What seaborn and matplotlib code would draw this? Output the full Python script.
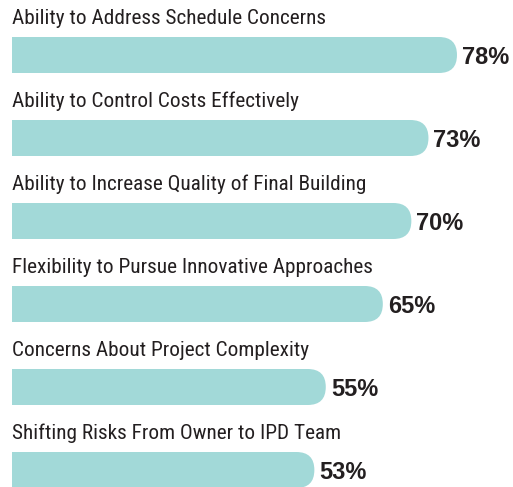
import matplotlib
matplotlib.use("Agg")
import matplotlib.pyplot as plt
import seaborn as sns
import pandas as pd
from matplotlib.patches import FancyBboxPatch, Rectangle

# Datos del gráfico
factors = [
    "Ability to Address Schedule Concerns",
    "Ability to Control Costs Effectively",
    "Ability to Increase Quality of Final Building",
    "Flexibility to Pursue Innovative Approaches",
    "Concerns About Project Complexity",
    "Shifting Risks From Owner to IPD Team",
]
percentages = [78, 73, 70, 65, 55, 53]

bar_color = "#a2d9d8"
text_color = "#231f20"

df = pd.DataFrame({"factor": factors, "pct": percentages})

W, H = 513, 487
fig = plt.figure(figsize=(W / 100, H / 100), dpi=100)
ax = fig.add_axes([12 / W, 0, 501 / W, 1])

px_per_unit = 5.705
spacing = 83.0
first_center = 55.0
bar_h = 36 / spacing

sns.barplot(data=df, x="pct", y="factor", orient="h", color=bar_color,
            width=bar_h, saturation=1, ax=ax)

ax.set_xlim(0, 501 / px_per_unit)
ax.set_ylim((H - first_center) / spacing, -first_center / spacing)
ax.axis("off")

# Redondear el extremo derecho de las barras
r_px = 18
for p in list(ax.patches):
    x, y, w, h = p.get_x(), p.get_y(), p.get_width(), p.get_height()
    p.set_visible(False)
    rx = r_px / px_per_unit
    aspect = (1 / spacing) / (1 / px_per_unit)
    ax.add_patch(FancyBboxPatch((x, y), w, h,
                                boxstyle=f"round,pad=0,rounding_size={rx}",
                                mutation_aspect=aspect,
                                facecolor=bar_color, edgecolor="none"))
    ax.add_patch(Rectangle((x, y), w / 2, h, facecolor=bar_color, edgecolor="none"))

label_font = ["Roboto Condensed", "Liberation Sans Narrow", "DejaVu Sans"]
for i, (name, val) in enumerate(zip(factors, percentages)):
    ax.text(0, i - 0.5 * bar_h - 9 / spacing, name, ha="left", va="bottom",
            fontsize=15.3, color=text_color, family=label_font)
    ax.text(val + 5 / px_per_unit, i + 2 / spacing, f"{val}%", ha="left", va="center",
            fontsize=17, fontweight="bold", color=text_color,
            family=["Liberation Sans", "DejaVu Sans"])

fig.savefig("out.png", dpi=100)
